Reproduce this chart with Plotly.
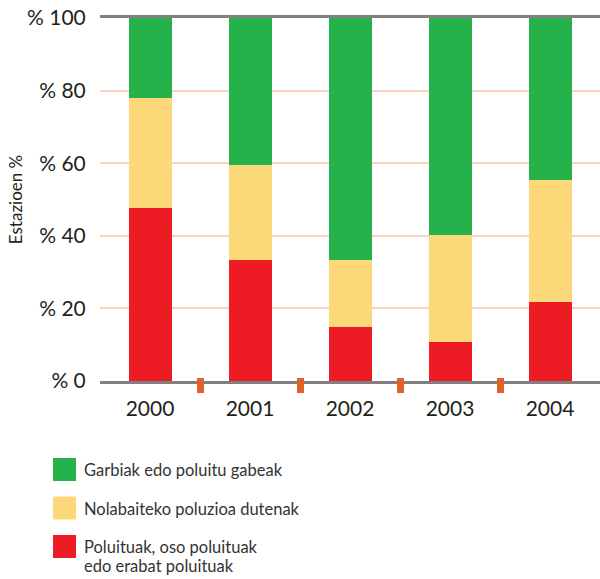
import plotly.graph_objects as go

years = ["2000", "2001", "2002", "2003", "2004"]
red_vals = [47.7, 33.3, 14.9, 10.7, 21.8]
yellow_vals = [30.3, 26.2, 18.4, 29.5, 33.6]
green_vals = [22.0, 40.5, 66.7, 59.8, 44.6]
series_names = [
    "Poluituak, oso poluituak<br>edo erabat poluituak",
    "Nolabaiteko poluzioa dutenak",
    "Garbiak edo poluitu gabeak",
]
y_tick_vals = [0, 20, 40, 60, 80, 100]
y_tick_text = ["% 0", "% 20", "% 40", "% 60", "% 80", "% 100"]
y_title = "Estazioen %"

RED = "#ed1c24"
YELLOW = "#fdd878"
GREEN = "#25b24b"
colors = [RED, YELLOW, GREEN]
values = [red_vals, yellow_vals, green_vals]

FONT = "Lato"
W, H = 600, 579
L, R, T, B = 100, 0, 18, 198

fig = go.Figure()
for name, vals, col in zip(series_names, values, colors):
    fig.add_trace(go.Bar(x=years, y=vals, name=name, marker=dict(color=col, line=dict(width=0)),
                         width=0.43, showlegend=False))

def px_x(px):
    return (px - L) / (W - L - R)

def px_y(py):
    return (H - B - py) / (H - T - B)

shapes = []
annotations = []
# boundary ticks between categories
for i in range(len(years) - 1):
    shapes.append(dict(type="rect", xref="x", yref="paper", xsizemode="pixel", ysizemode="pixel",
                       xanchor=i + 0.5, x0=-3, x1=4, yanchor=0, y0=-12, y1=3,
                       fillcolor="#e0622a", line=dict(width=0), layer="above"))

# manual legend (top to bottom: green, yellow, red)
leg_order = [2, 1, 0]
row_top = [458, 496.5, 535]
for k, idx in enumerate(leg_order):
    top = row_top[k]
    shapes.append(dict(type="rect", xref="paper", yref="paper",
                       x0=px_x(53), x1=px_x(76), y0=px_y(top + 23), y1=px_y(top),
                       fillcolor=colors[idx], line=dict(width=0)))
    lines = series_names[idx].split("<br>")
    for j, line in enumerate(lines):
        annotations.append(dict(text=line, xref="paper", yref="paper", x=px_x(82), y=px_y(top + 12 + j * 18.7),
                                xanchor="left", yanchor="middle", showarrow=False,
                                font=dict(family=FONT, size=16.5, color="#333333")))

fig.update_layout(
    width=W, height=H,
    margin=dict(l=L, r=R, t=T, b=B),
    barmode="stack",
    plot_bgcolor="white", paper_bgcolor="white",
    xaxis=dict(type="category", range=[-0.5, len(years) - 0.5], showgrid=False,
               showline=True, linecolor="#808080", linewidth=3, mirror=True,
               ticks="outside", ticklen=7, tickcolor="rgba(0,0,0,0)",
               tickfont=dict(family=FONT, size=21, color="#231f20")),
    yaxis=dict(range=[0, 100], tickvals=y_tick_vals, ticktext=y_tick_text,
               showgrid=True, gridcolor="#f9d3bd", gridwidth=2, zeroline=False,
               ticks="outside", ticklen=9, tickcolor="rgba(0,0,0,0)",
               tickfont=dict(family=FONT, size=21, color="#231f20"),
               title=dict(text=y_title, font=dict(family=FONT, size=17, color="#231f20"), standoff=0)),
    shapes=shapes,
    annotations=annotations,
)

fig.write_html("out.html", config={"displayModeBar": False},
               post_script="document.body.style.margin='0';document.body.style.overflow='hidden';")
